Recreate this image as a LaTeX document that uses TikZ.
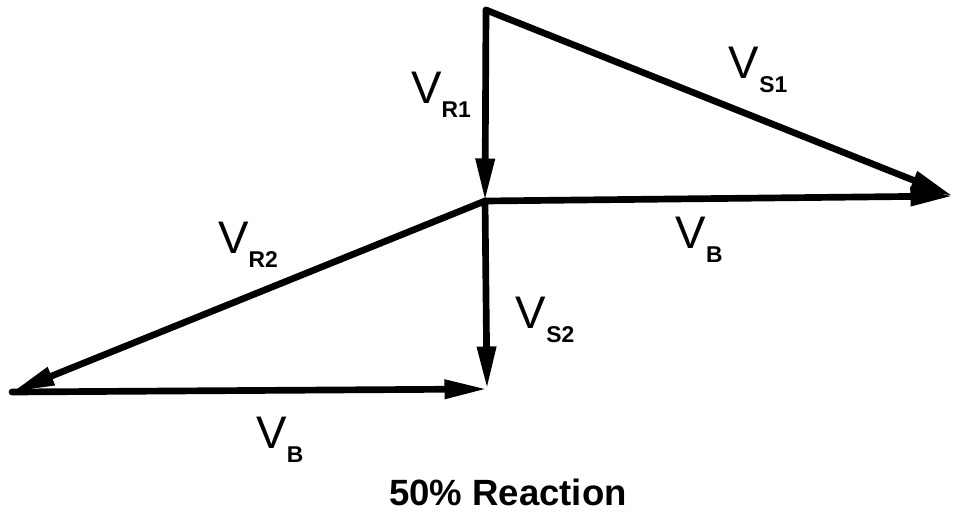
\documentclass[tikz,border=0pt]{standalone}
\usepackage{fontspec}
\setmainfont{Liberation Sans}
\usetikzlibrary{arrows.meta}
\usetikzlibrary{positioning}

\newcommand{\vel}[1]{V\raisebox{-0.3em}{\fontsize{13}{13}\selectfont\bfseries #1}}

\begin{document}
\begin{tikzpicture}[
    % Vector line style
    vec/.style={-{Triangle[length=0.85cm, width=0.36cm]}, line width=3.8pt, line cap=round, line join=round},
    % Velocity label style
    vel label/.style={font=\fontsize{26}{26}\selectfont, inner sep=1pt}
  ]
  \useasboundingbox (0,0) rectangle (19.18,10.32);

  % --- Corner points ---
  \coordinate (top)    at (9.72, 10.12);
  \coordinate (mid)    at (9.70, 6.30);
  \coordinate (right)  at (19.06, 6.40);
  \coordinate (bottom) at (9.74, 2.54);
  \coordinate (left)   at (0.24, 2.48);

  % --- Vectors ---
  \draw[vec] (top) -- (right);
  \draw[vec] (top) -- (mid);
  \draw[vec] (mid) -- (right);
  \draw[vec] (mid) -- (left);
  \draw[vec] (mid) -- (bottom);
  \draw[vec] (left) -- (bottom);

  % --- Labels ---
  \node[vel label] (vs1) at (15.16, 8.92) {\vel{S1}};
  \node[vel label] (vr1) at (8.82, 8.42) {\vel{R1}};
  \node[vel label] (vb1) at (13.98, 5.52) {\vel{B}};
  \node[vel label] (vr2) at (4.96, 5.42) {\vel{R2}};
  \node[vel label] (vs2) at (10.9, 3.92) {\vel{S2}};
  \node[vel label] (vb2) at (5.6, 1.52)  {\vel{B}};

  \node[font=\fontsize{20.8}{20.8}\selectfont\bfseries] (title) at (10.16, 0.48) {50\% Reaction};

\end{tikzpicture}
\end{document}
